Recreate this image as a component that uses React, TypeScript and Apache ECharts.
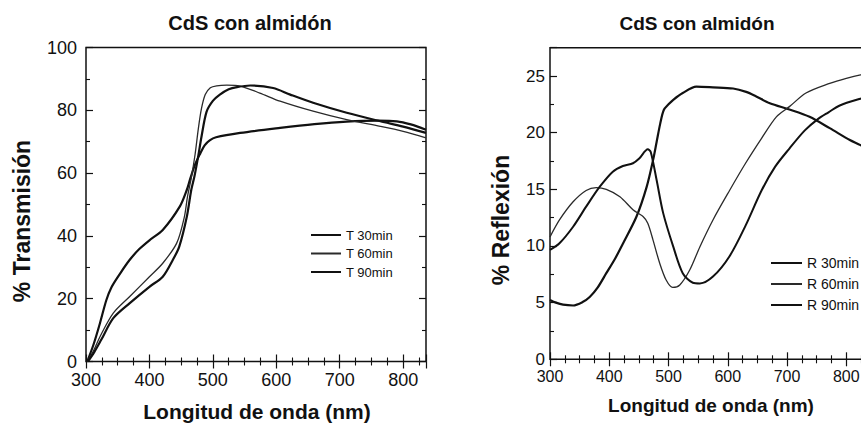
import React, { useEffect, useRef } from "react";
import * as echarts from "echarts";

const FONT = "'Liberation Sans', Arial, Helvetica, sans-serif";
const INK = "#111111";

// ---- Left chart: % Transmisión vs wavelength (nm) ----
const transNames = ["T 30min", "T 60min", "T 90min"];
const t30: number[][] = [
  [302, 0], [312, 5.5], [322, 12.2], [332, 19.5], [340, 23.6], [354, 28.1], [369, 32.4], [384, 35.8], [400, 38.6],
  [421, 41.9], [448, 49.4], [459, 54.7], [464, 58], [472, 62.8], [480, 66.2], [487, 68.8], [495, 70.4],
  [505, 71.4], [543, 72.8], [606, 74.4], [660, 75.6], [711, 76.4], [760, 76.7], [790, 76.5], [812, 75.5],
  [836, 73.8],
];
const t60: number[][] = [
  [302, 0], [312, 3.5], [322, 7.9], [343, 15.4], [369, 20.7], [400, 27], [421, 31.3], [443, 37.7],
  [455, 46], [460, 52.5], [466, 58.5], [472, 66], [477, 74], [482, 80.5], [488, 85], [496, 87.2],
  [506, 87.8], [522, 88], [543, 87.7], [574, 85.5], [606, 82.9], [658, 79.7], [711, 77], [764, 74.9],
  [800, 73.3], [836, 71.2],
];
const t90: number[][] = [
  [303, 0], [313, 3], [324, 6.9], [343, 13.8], [369, 18.6], [400, 23.8], [421, 27], [437, 32.4],
  [447, 36.6], [459, 46.2], [466, 54.7], [471, 59], [477, 65.5], [482, 71.5], [490, 79.5], [500, 83],
  [511, 85], [525, 86.7], [538, 87.4], [559, 87.9], [595, 87.1], [622, 85], [658, 82.4], [711, 79.2],
  [764, 76.5], [800, 74.8], [836, 72.8],
];

// ---- Right chart: % Reflexión vs wavelength (nm) ----
const reflNames = ["R 30min", "R 60min", "R 90min"];
const r30: number[][] = [
  [300, 5.24], [310, 5.0], [322, 4.82], [339, 4.75], [355, 5.05], [367, 5.5], [380, 6.3], [395, 7.6],
  [410, 8.9], [423, 10.2], [446, 12.6], [463, 15.2], [474, 17.6], [480, 19.2], [486, 20.8], [492, 22],
  [500, 22.5], [508, 22.9], [524, 23.5], [547, 24.06], [575, 24], [609, 23.9], [631, 23.6], [648, 23.2],
  [671, 22.6], [704, 22.05], [738, 21.4], [772, 20.4], [806, 19.35], [824, 18.9], [840, 18.4],
];
const r60: number[][] = [
  [300, 10.8], [316, 12.3], [339, 13.9], [361, 14.9], [378, 15.15], [395, 15], [418, 14.35], [440, 13.2],
  [457, 12.6], [465, 12], [474, 10.5], [485, 8.5], [496, 7], [507, 6.35], [519, 6.56], [536, 7.9],
  [553, 9.94], [575, 12.3], [603, 14.9], [630, 17.3], [657, 19.5], [682, 21.4], [704, 22.3], [732, 23.5],
  [772, 24.35], [800, 24.8], [824, 25.1], [840, 25.2],
];
const r90: number[][] = [
  [300, 9.65], [316, 10.24], [339, 11.7], [361, 13.47], [384, 15.23], [406, 16.56], [423, 17.06], [440, 17.3],
  [451, 17.74], [465, 18.53], [470, 18.3], [480, 15.8], [491, 12.9], [508, 9.94], [524, 7.6], [541, 6.76],
  [553, 6.7], [575, 7.3], [603, 9.1], [630, 11.8], [657, 14.9], [680, 17], [704, 18.6], [730, 20.2],
  [752, 21.2], [770, 21.8], [789, 22.4], [824, 23], [840, 23.2],
];

// axis ranges / ticks
const xMinNm = 300;
const xMaxLeft = 836;
const xMaxRight = 840;
const xStep = 100;
const transMax = 100;
const transStep = 20;
const reflMax = 27.5;
const reflStep = 5;

const titleText = "CdS con almidón";
const xName = "Longitud de onda (nm)";
const yNameLeft = "% Transmisión";
const yNameRight = "% Reflexión";

function tickStyle() {
  return {
    axisLine: { show: false },
    axisTick: { show: true, inside: true, length: 7, lineStyle: { color: INK, width: 1.2 } },
    minorTick: { show: true, splitNumber: 2, length: 4, lineStyle: { color: INK, width: 1.1 } },
    splitLine: { show: false },
    minorSplitLine: { show: false },
  };
}

function xAxis(gridIndex: number, position: string, max: number, label: boolean, fontSize: number) {
  const s = tickStyle();
  return {
    type: "value",
    gridIndex,
    position,
    min: xMinNm,
    max,
    interval: xStep,
    ...s,
    minorTick: { ...s.minorTick, splitNumber: 4 },
    axisLabel: {
      show: label,
      color: INK,
      fontSize,
      fontFamily: FONT,
      margin: 9,
      showMaxLabel: false,
      formatter: (v: number) => (v % xStep === 0 ? String(v) : ""),
    },
  };
}

function yAxis(gridIndex: number, position: string, max: number, step: number, label: boolean, fontSize: number, margin: number) {
  const s = tickStyle();
  return {
    type: "value",
    gridIndex,
    position,
    min: 0,
    max,
    interval: step,
    ...s,
    axisLabel: {
      show: label,
      color: INK,
      fontSize,
      fontFamily: FONT,
      margin,
      showMaxLabel: max % step === 0,
      formatter: (v: number) => (v % step === 0 ? String(v) : ""),
    },
  };
}

function lineSeries(name: string, data: number[][], axis: number, width: number, color: string) {
  return {
    type: "line",
    name,
    xAxisIndex: axis,
    yAxisIndex: axis,
    data,
    symbol: "none",
    smooth: 0.3,
    lineStyle: { color, width },
    itemStyle: { color },
    emphasis: { disabled: true },
  };
}

function textEl(text: string, x: number, y: number, size: number, rotation = 0) {
  return {
    type: "text",
    x,
    y,
    rotation,
    style: {
      text,
      fontSize: size,
      fontWeight: "bold",
      fontFamily: FONT,
      fill: INK,
      align: "center",
      verticalAlign: "middle",
    },
  };
}

export default function App() {
  const ref = useRef<HTMLDivElement>(null);
  useEffect(() => {
    if (!ref.current) return;
    const chart = echarts.init(ref.current, null, { renderer: "svg" });
    const option: any = {
      animation: false,
      backgroundColor: "#ffffff",
      grid: [
        { left: 86, top: 47.5, width: 340, height: 314, show: true, borderColor: INK, borderWidth: 1.5, containLabel: false },
        { left: 550, top: 47.7, width: 320, height: 311.6, show: true, borderColor: INK, borderWidth: 1.5, containLabel: false },
      ],
      xAxis: [
        xAxis(0, "bottom", xMaxLeft, true, 18),
        xAxis(0, "top", xMaxLeft, false, 18),
        xAxis(1, "bottom", xMaxRight, true, 16),
        xAxis(1, "top", xMaxRight, false, 16),
      ],
      yAxis: [
        yAxis(0, "left", transMax, transStep, true, 18, 9),
        yAxis(0, "right", transMax, transStep, false, 18, 9),
        yAxis(1, "left", reflMax, reflStep, true, 17, 5),
        yAxis(1, "right", reflMax, reflStep, false, 17, 5),
      ],
      legend: [
        {
          orient: "vertical",
          left: 306,
          top: 223.5,
          icon: "rect",
          itemWidth: 30,
          itemHeight: 2,
          itemGap: 5.5,
          selectedMode: false,
          data: transNames,
          textStyle: { fontSize: 13, color: INK, fontFamily: FONT },
        },
        {
          orient: "vertical",
          left: 766,
          top: 251,
          icon: "rect",
          itemWidth: 31,
          itemHeight: 2,
          itemGap: 7,
          selectedMode: false,
          data: reflNames,
          textStyle: { fontSize: 14, color: INK, fontFamily: FONT },
        },
      ],
      graphic: [
        textEl(titleText, 250, 23, 20),
        textEl(titleText, 697, 23, 19),
        textEl(xName, 257, 411, 21),
        textEl(xName, 711, 405, 19),
        textEl(yNameLeft, 22, 221, 23, Math.PI / 2),
        textEl(yNameRight, 501, 220, 23, Math.PI / 2),
      ],
      series: [
        lineSeries(transNames[0], t30, 0, 2.2, INK),
        lineSeries(transNames[1], t60, 0, 1.3, "#2a2a2a"),
        lineSeries(transNames[2], t90, 0, 2.2, INK),
        lineSeries(reflNames[0], r30, 2, 2.2, INK),
        lineSeries(reflNames[1], r60, 2, 1.3, "#2a2a2a"),
        lineSeries(reflNames[2], r90, 2, 2.0, INK),
      ],
    };
    chart.setOption(option);
    return () => chart.dispose();
  }, []);
  return (
    <div
      style={{
        position: "fixed",
        left: 0,
        top: 0,
        width: 861,
        height: 425,
        overflow: "hidden",
        background: "#ffffff",
      }}
    >
      <div ref={ref} style={{ width: 900, height: 425 }} />
    </div>
  );
}
